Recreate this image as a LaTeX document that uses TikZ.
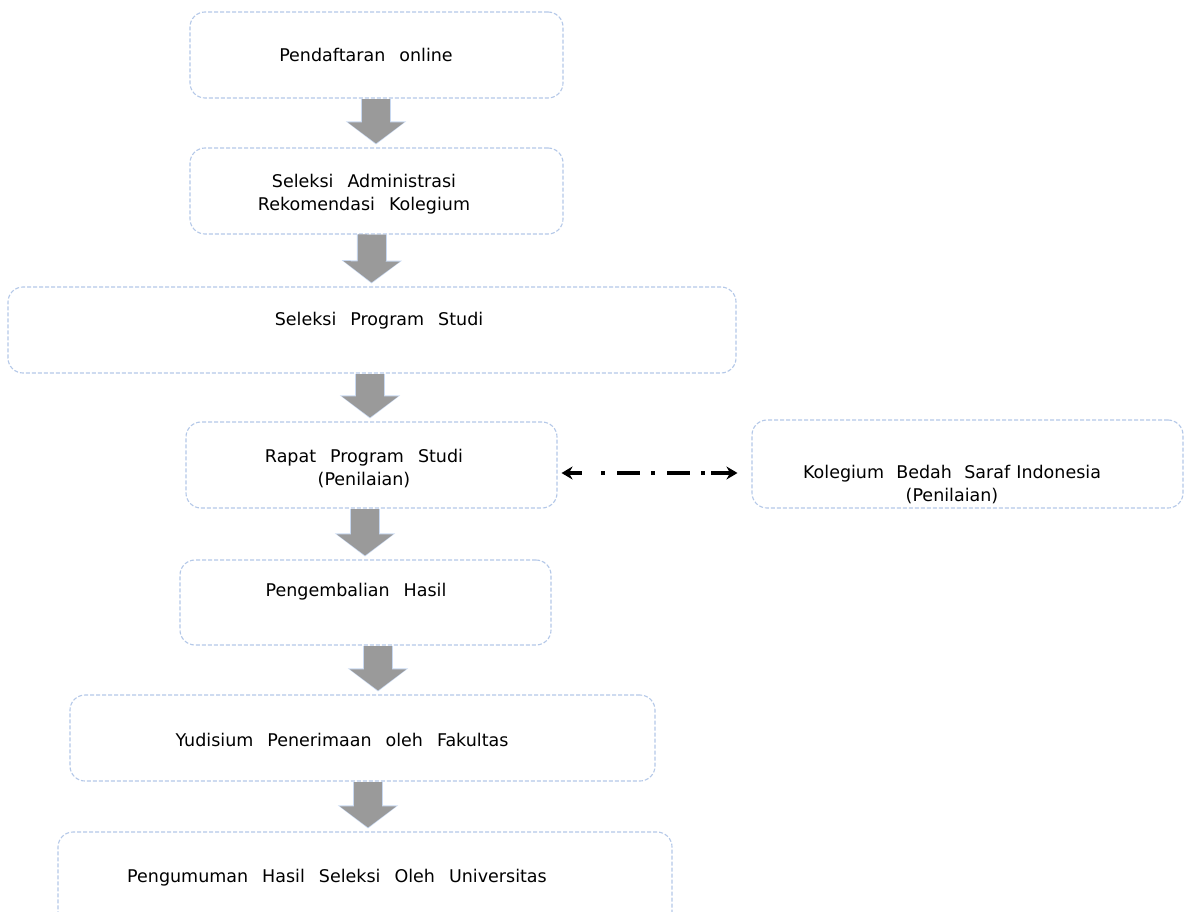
\documentclass[tikz,border=0pt]{standalone}
\usepackage{fontspec}
\setmainfont{DejaVu Sans}
\usetikzlibrary{arrows.meta}
\definecolor{boxline}{HTML}{B4C8E8}
\definecolor{arrgray}{HTML}{9A9A9A}
\definecolor{arrglow}{HTML}{C8D8F0}
\newcommand\mylblfont{\fontsize{17.5}{23}\selectfont\spaceskip=0.8em\relax}
\tikzset{
  stepbox/.style={draw=boxline, line width=1.1pt, dash pattern=on 4pt off 2pt,
    rounded corners=15pt, fill=white, inner sep=0pt},
  lbl/.style={font=\mylblfont, align=center, inner sep=0pt, text=black},
  blockarr/.style={line width=28pt, draw=arrgray, line cap=butt,
    -{Triangle[width=55pt,length=21pt]}, shorten >=4pt},
  glowarr/.style={line width=30pt, draw=arrglow, line cap=butt,
    -{Triangle[width=59pt,length=23pt]}, shorten >=3pt},
  dbl/.style={{Stealth[length=11pt,width=13pt]}-{Stealth[length=11pt,width=13pt]}, line width=3.2pt,
    dash pattern=on 14pt off 19pt on 4pt off 12pt on 23pt off 11pt on 4pt off 12pt on 23pt off 11pt on 4pt off 6pt on 40pt}
}
\begin{document}
\begin{tikzpicture}[x=1pt,y=-1pt]
\useasboundingbox (0,0) rectangle (1185,912);
% boxes
\node[stepbox, minimum width=373pt, minimum height=86pt] (b1) at (376.5,55) {};
\node[stepbox, minimum width=373pt, minimum height=86pt] (b2) at (376.5,191) {};
\node[stepbox, minimum width=728pt, minimum height=86pt] (b3) at (372,330) {};
\node[stepbox, minimum width=371pt, minimum height=86pt] (b4) at (371.5,465) {};
\node[stepbox, minimum width=431pt, minimum height=88pt] (b5) at (967.5,464) {};
\node[stepbox, minimum width=371pt, minimum height=85pt] (b6) at (365.5,602.5) {};
\node[stepbox, minimum width=585pt, minimum height=86pt] (b7) at (362.5,738) {};
\node[stepbox, minimum width=614pt, minimum height=110pt] (b8) at (365,887) {};
% texts
\node[lbl] (t1) at (366,55) {Pendaftaran  online};
\node[lbl] (t2) at (364,194.5) {Seleksi Administrasi\\Rekomendasi Kolegium};
\node[lbl] (t3) at (379,321) {Seleksi Program Studi};
\node[lbl] (t4) at (364,468.5) {Rapat Program Studi\\(Penilaian)};
\node[lbl] (t5) at (952,485) {Kolegium\hspace{0.7em}Bedah\hspace{0.7em}Saraf\hspace{0.35em}Indonesia\\(Penilaian)};
\node[lbl] (t6) at (356,592) {Pengembalian Hasil};
\node[lbl] (t7) at (342,740) {Yudisium Penerimaan oleh Fakultas};
\node[lbl] (t8) at (337,878) {Pengumuman Hasil Seleksi Oleh Universitas};
% block arrows
\draw[glowarr] ([xshift=-0.5pt]b1.south) -- ([xshift=-0.5pt]b2.north);
\draw[blockarr] ([xshift=-0.5pt]b1.south) -- ([xshift=-0.5pt]b2.north);
\draw[glowarr] ([xshift=-4.5pt]b2.south) -- ([xshift=-0.5pt]b3.north);
\draw[blockarr] ([xshift=-4.5pt]b2.south) -- ([xshift=-0.5pt]b3.north);
\draw[glowarr] ([xshift=-2pt]b3.south) -- ([xshift=-1.5pt]b4.north);
\draw[blockarr] ([xshift=-2pt]b3.south) -- ([xshift=-1.5pt]b4.north);
\draw[glowarr] ([xshift=-6.5pt]b4.south) -- ([xshift=-0.5pt]b6.north);
\draw[blockarr] ([xshift=-6.5pt]b4.south) -- ([xshift=-0.5pt]b6.north);
\draw[glowarr] ([xshift=12.5pt]b6.south) -- ([xshift=15.5pt]b7.north);
\draw[blockarr] ([xshift=12.5pt]b6.south) -- ([xshift=15.5pt]b7.north);
\draw[glowarr] ([xshift=5.5pt]b7.south) -- ([xshift=3pt]b8.north);
\draw[blockarr] ([xshift=5.5pt]b7.south) -- ([xshift=3pt]b8.north);
% dash-dot double arrow
\draw[dbl] ([xshift=4pt,yshift=-8pt]b4.east) -- ([xshift=-14pt,yshift=-9pt]b5.west);
\end{tikzpicture}
\end{document}
